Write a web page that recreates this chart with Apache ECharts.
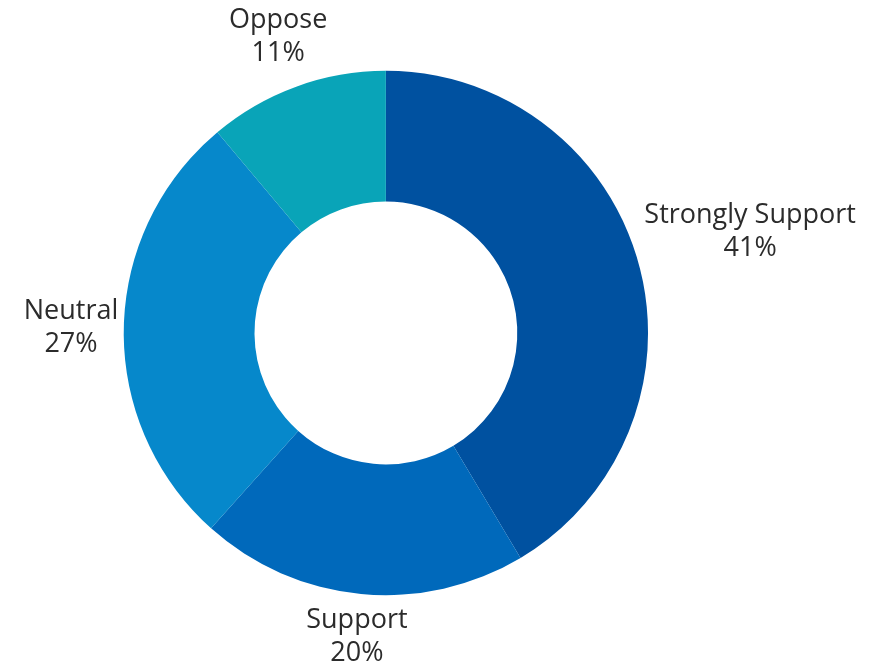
<!DOCTYPE html>
<html>
<head>
<meta charset="utf-8">
<script src="https://cdn.jsdelivr.net/npm/echarts@6/dist/echarts.min.js"></script>
<style>
html,body{margin:0;padding:0;background:#fff;}
#chart{width:877px;height:662px;}
</style>
</head>
<body>
<div id="chart"></div>
<script>
const categories = ['Strongly Support', 'Support', 'Neutral', 'Oppose'];
const values = [41, 20, 27, 11];
const sliceColors = ['#0051a0', '#0069bb', '#0688cb', '#09a4b8'];

const CENTER = ['44%', '50.3%'];
const RADIUS = ['39.7%', '79.2%'];
const LABEL_GAP = 5;

const chart = echarts.init(document.getElementById('chart'), null, {renderer: 'canvas'});

const total = values.reduce((a, b) => a + b, 0);

function labelLayout(params) {
  const i = params.dataIndex;
  let before = 0;
  for (let k = 0; k < i; k++) before += values[k];
  const mid = (before + values[i] / 2) / total * 2 * Math.PI;
  const dx = Math.sin(mid), dy = -Math.cos(mid);
  const W = chart.getWidth(), H = chart.getHeight();
  const cx = W * parseFloat(CENTER[0]) / 100;
  const cy = H * parseFloat(CENTER[1]) / 100;
  const R = Math.min(W, H) / 2 * parseFloat(RADIUS[1]) / 100;
  const w = params.labelRect.width, h = params.labelRect.height;
  const t = R + LABEL_GAP + Math.abs(dx) * w / 2 + Math.abs(dy) * h / 2;
  return {
    x: cx + dx * t,
    y: cy + dy * t,
    align: 'center',
    verticalAlign: 'middle'
  };
}

chart.setOption({
  backgroundColor: '#ffffff',
  animation: false,
  series: [{
    type: 'pie',
    center: CENTER,
    radius: RADIUS,
    startAngle: 90,
    clockwise: true,
    avoidLabelOverlap: false,
    silent: true,
    data: categories.map((name, i) => ({
      name: name,
      value: values[i],
      itemStyle: {color: sliceColors[i]}
    })),
    itemStyle: {borderWidth: 0},
    label: {
      show: true,
      position: 'outside',
      alignTo: 'none',
      formatter: '{b}\n{c}%',
      fontFamily: '"Open Sans", "Noto Sans", sans-serif',
      fontSize: 27,
      lineHeight: 33,
      color: '#2b2b2b'
    },
    labelLine: {show: false, length: 0, length2: 0},
    labelLayout: labelLayout
  }]
});
</script>
</body>
</html>
